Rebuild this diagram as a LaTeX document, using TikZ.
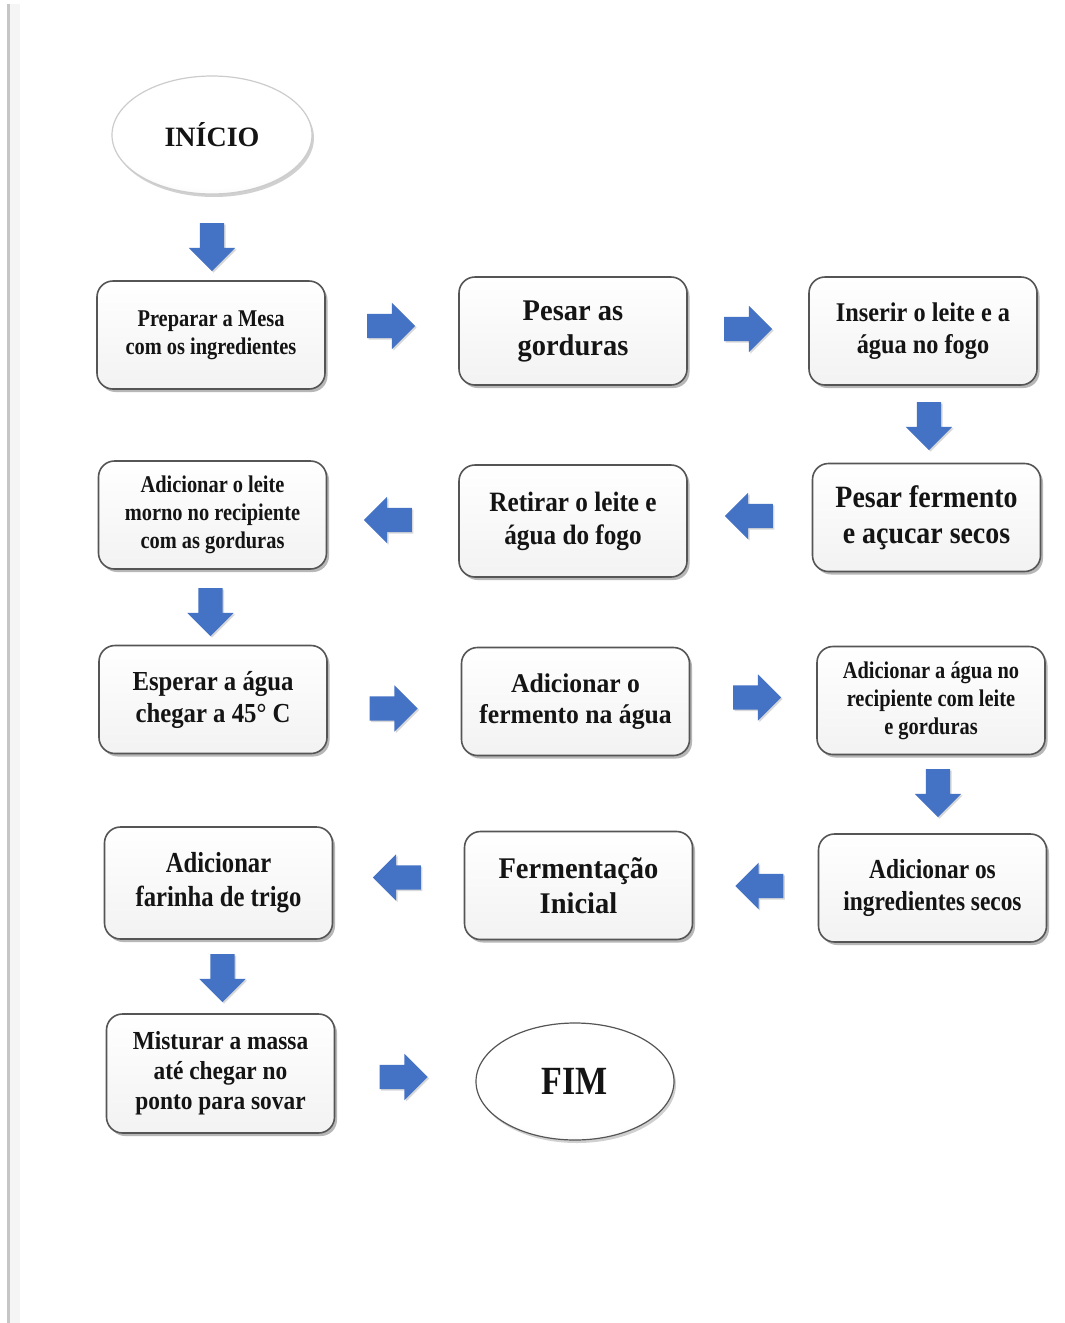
\documentclass[tikz,border=0pt]{standalone}
\usepackage{fontspec}
\setmainfont{Liberation Serif}
\newfontfamily\fsa[FakeStretch=0.85]{Liberation Serif}
\newfontfamily\fsb[FakeStretch=0.9]{Liberation Serif}
\newfontfamily\fsc[FakeStretch=0.95]{Liberation Serif}
\usetikzlibrary{shapes.geometric,shapes.arrows,shadows}
\definecolor{boxline}{RGB}{85,85,85}
\definecolor{txt}{RGB}{20,20,20}
\definecolor{arrowblue}{RGB}{68,114,196}
\pgfdeclareradialshading{ovalsh}{\pgfpoint{0bp}{8bp}}{color(0bp)=(white); color(26bp)=(white); color(40bp)=(gray!20); color(50bp)=(gray!50)}
\tikzset{
  box/.style={draw=boxline, line width=1.6pt, rounded corners=16pt,
    top color=white, bottom color=gray!10, minimum width=228pt,
    minimum height=108pt, align=center, inner sep=0pt, text=txt,
    drop shadow={shadow xshift=2.5pt, shadow yshift=-3pt, opacity=0.4, fill=black!70}},
  oval/.style={ellipse, draw=boxline!60, line width=1.2pt, shading=ovalsh,
    minimum width=200pt, minimum height=118pt,
    inner sep=0pt, text=txt,
    drop shadow={shadow xshift=2pt, shadow yshift=-3pt, opacity=0.3, fill=black!60}},
  blk/.style={single arrow, fill=arrowblue, draw=none, minimum height=48pt,
    inner sep=12pt, single arrow head extend=11pt,
    drop shadow={shadow xshift=1.5pt, shadow yshift=-1.5pt, opacity=0.25, fill=black!60}},
  arR/.style={blk, shape border rotate=0, xshift=-6pt},
  arL/.style={blk, shape border rotate=180, xshift=6pt},
  arD/.style={blk, shape border rotate=270, yshift=6pt},
}
\newcommand{\fz}[2]{\fontsize{#1}{#2}\selectfont}
\begin{document}
\begin{tikzpicture}[x=1pt,y=-1pt]
\useasboundingbox[fill=white] (0,0) rectangle (1065,1323);
\fill[gray!45] (7,4) rectangle (10,1323);
\fill[gray!8] (10,4) rectangle (20,1323);

\node[oval, draw=gray!40, font=\bfseries\fz{28}{32}] (ini) at (212,135) {INÍCIO};
\node[arD] (a1) at (212,247) {};

\node[box, font=\fsa\bfseries\fz{24}{28}] (A) at (211,335) {Preparar a Mesa\\com os ingredientes};
\node[arR] (a2) at (391,326) {};
\node[box, font=\fsc\bfseries\fz{30}{35}] (B) at (573,331) {Pesar as\\gorduras};
\node[arR] (a3) at (748,329) {};
\node[box, font=\fsb\bfseries\fz{27}{32}] (C) at (923,331) {Inserir o leite e a\\água no fogo};
\node[arD] (a4) at (929,426) {};

\node[box, font=\fsb\bfseries\fz{31}{36}] (F) at (926.5,517.5) {Pesar fermento\\e açucar secos};
\node[arL] (a5) at (749,516) {};
\node[box, minimum height=112pt, font=\fsb\bfseries\fz{28}{33}] (E) at (573,521) {Retirar o leite e\\água do fogo};
\node[arL] (a6) at (388,520) {};
\node[box, font=\fsa\bfseries\fz{24}{28}] (D) at (212.5,515) {Adicionar o leite\\morno no recipiente\\com as gorduras};
\node[arD] (a7) at (210.5,612) {};

\node[box, font=\fsb\bfseries\fz{27.5}{32}] (G) at (213,699.5) {Esperar a água\\chegar a 45° C};
\node[arR] (a8) at (393.5,708.5) {};
\node[box, font=\fsc\bfseries\fz{27}{31}] (H) at (575.5,701.5) {Adicionar o\\fermento na água};
\node[arR] (a9) at (757,697.5) {};
\node[box, font=\fsa\bfseries\fz{24}{28}] (I) at (931,700.5) {Adicionar a água no\\recipiente com leite\\e gorduras};
\node[arD] (a10) at (938,793) {};

\node[box, font=\fsa\bfseries\fz{27.5}{32}] (L) at (932.5,888) {Adicionar os\\ingredientes secos};
\node[arL] (a11) at (759.5,886) {};
\node[box, font=\fsc\bfseries\fz{30}{35}] (K) at (578.5,885.5) {Fermentação\\Inicial};
\node[arL] (a12) at (397,877.5) {};
\node[box, minimum height=112pt, font=\fsa\bfseries\fz{29}{34}] (J) at (218.5,883) {Adicionar\\farinha de trigo};
\node[arD] (a13) at (222.5,978) {};

\node[box, minimum height=119pt, font=\fsb\bfseries\fz{26}{30}] (M) at (220.5,1073.5) {Misturar a massa\\até chegar no\\ponto para sovar};
\node[arR] (a14) at (403.5,1077) {};
\node[oval, draw=boxline, minimum width=198pt, minimum height=117pt, font=\fsa\bfseries\fz{40}{44}] (fim) at (575,1081.5) {FIM};
\end{tikzpicture}
\end{document}
